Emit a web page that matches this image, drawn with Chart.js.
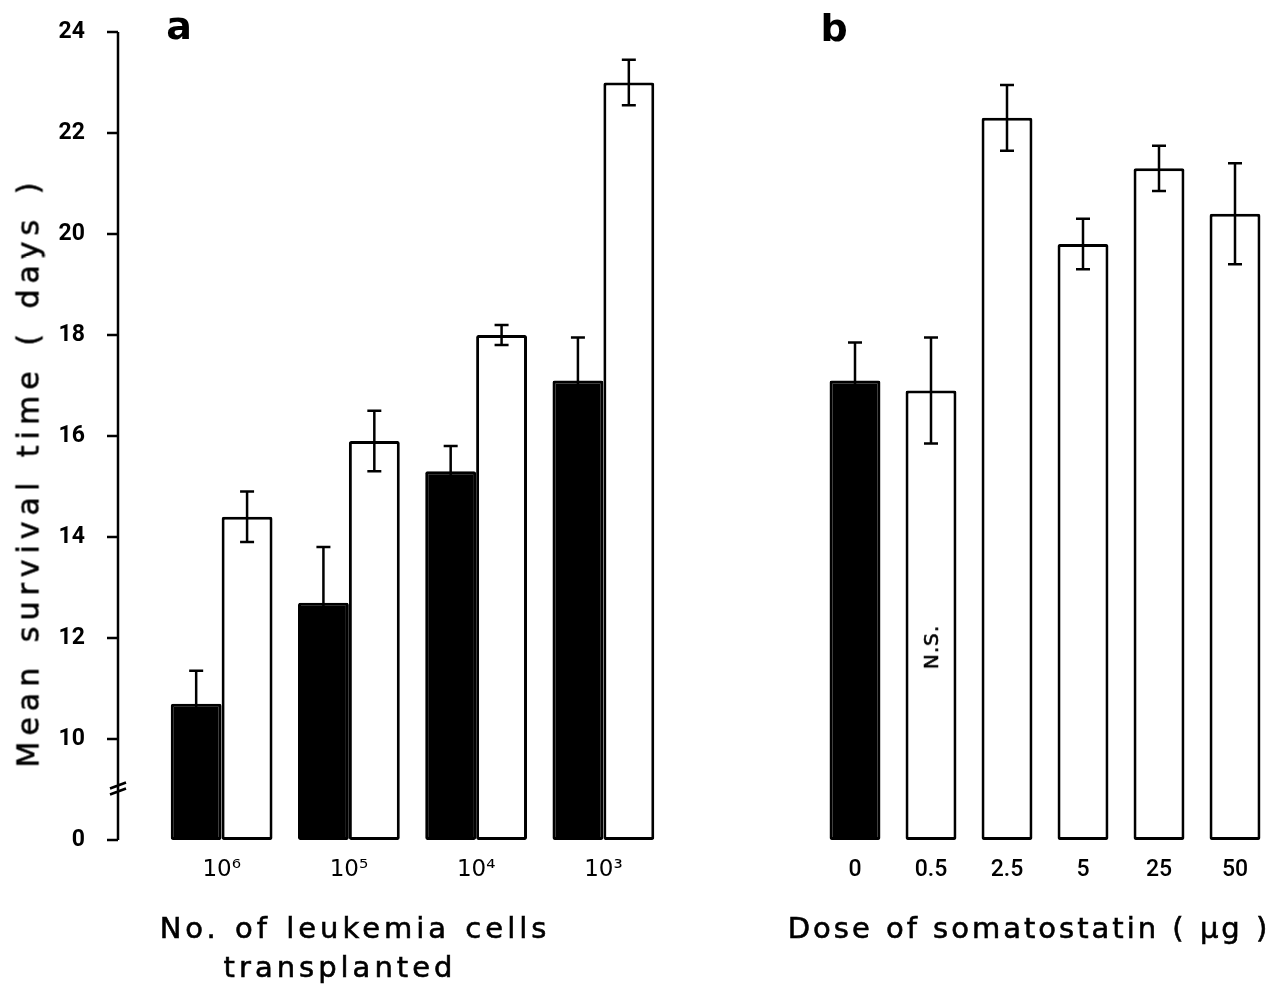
<!DOCTYPE html>
<html>
<head>
<meta charset="utf-8">
<script src="https://cdn.jsdelivr.net/npm/chart.js@4/dist/chart.umd.min.js"></script>
<style>
  body { margin: 0; background: #fff; }
  #wrap { position: relative; width: 1273px; height: 986px; overflow: hidden; font-family: "DejaVu Sans", sans-serif; color: #000; }
  canvas { position: absolute; top: 0; }
  #cA { left: 0; }
  #cB { left: 680px; }
  .txt { position: absolute; white-space: nowrap; transform: translate(-50%, -50%); -webkit-text-stroke: 0.6px #000; }
  .letter { font-size: 38px; font-weight: bold; -webkit-text-stroke: 0; }
  .title { font-size: 29px; letter-spacing: 4px; word-spacing: 2px; }
  #ytitle { font-size: 30px; letter-spacing: 6px; word-spacing: 4px; transform: translate(-50%, -50%) rotate(-90deg); }
  #ns { font-size: 20px; letter-spacing: 1px; transform: translate(-50%, -50%) rotate(-90deg); }
</style>
</head>
<body>
<div id="wrap">
  <canvas id="cA" width="680" height="986"></canvas>
  <canvas id="cB" width="593" height="986"></canvas>
  <div class="txt letter" style="left:179px; top:26px;">a</div>
  <div class="txt letter" style="left:834px; top:28px;">b</div>
  <div class="txt" id="ytitle" style="left:28px; top:472px;">Mean survival time ( days )</div>
  <div class="txt title" style="left:355px; top:928px;">No. of leukemia cells</div>
  <div class="txt title" style="left:340px; top:967px;">transplanted</div>
  <div class="txt title" style="left:1029px; top:928px; letter-spacing:3px; word-spacing:1px;">Dose of somatostatin ( µg )</div>
  <div class="txt" id="ns" style="left:931px; top:647px;">N.S.</div>
</div>
<script>
// panel a: number of leukemia cells transplanted
const cellLabels = ['10⁶', '10⁵', '10⁴', '10³'];
const controlA = [10.7, 12.7, 15.3, 17.1];
const controlAErr = [0.65, 1.1, 0.5, 0.85];
const treatedA = [14.4, 15.9, 18.0, 23.0];
const treatedAErr = [0.5, 0.6, 0.2, 0.45];

// panel b: dose of somatostatin
const doseLabels = ['0', '0.5', '2.5', '5', '25', '50'];
const doseMeans = [17.1, 16.9, 22.3, 19.8, 21.3, 20.4];
const doseErr = [0.75, 1.05, 0.65, 0.5, 0.45, 1.0];
const doseColors = ['#000', '#fff', '#fff', '#fff', '#fff', '#fff'];

// y axis has a break between 0 and 10
const yTickValues = [0, 10, 12, 14, 16, 18, 20, 22, 24];
const toAxis = v => v >= 10 ? v - 8 : v * 0.2;
const fromAxis = a => a < 2 ? a * 5 : a + 8;

const errorBars = {
  id: 'errorBars',
  afterDatasetsDraw(chart) {
    const ctx = chart.ctx;
    const y = chart.scales.y;
    ctx.save();
    ctx.strokeStyle = '#000';
    ctx.lineWidth = 2.5;
    chart.data.datasets.forEach((ds, i) => {
      const meta = chart.getDatasetMeta(i);
      meta.data.forEach((bar, j) => {
        const m = ds.means[j], e = ds.errs[j];
        const top = y.getPixelForValue(toAxis(m + e));
        const bot = y.getPixelForValue(toAxis(m - e));
        ctx.beginPath();
        ctx.moveTo(bar.x, top); ctx.lineTo(bar.x, bot);
        ctx.moveTo(bar.x - 7, top); ctx.lineTo(bar.x + 7, top);
        ctx.moveTo(bar.x - 7, bot); ctx.lineTo(bar.x + 7, bot);
        ctx.stroke();
      });
    });
    ctx.restore();
  }
};

// y axis line drawn left of the chart area, with break marks
const brokenAxis = {
  id: 'brokenAxis',
  afterDraw(chart) {
    const y = chart.scales.y;
    if (!y.options.display) return;
    const ctx = chart.ctx;
    const ax = chart.chartArea.left - 40;
    ctx.save();
    ctx.strokeStyle = '#000';
    ctx.lineWidth = 2.5;
    ctx.beginPath();
    ctx.moveTo(ax, y.getPixelForValue(y.max));
    ctx.lineTo(ax, y.getPixelForValue(y.min));
    y.ticks.forEach(t => {
      const py = y.getPixelForValue(t.value);
      ctx.moveTo(ax - 11, py); ctx.lineTo(ax, py);
    });
    const pb = y.getPixelForValue(1);
    ctx.moveTo(ax - 8, pb - 1); ctx.lineTo(ax + 8, pb - 7);
    ctx.moveTo(ax - 8, pb + 5); ctx.lineTo(ax + 8, pb - 1);
    ctx.stroke();
    ctx.restore();
  }
};

function yScale(show) {
  return {
    display: show,
    min: 0,
    max: toAxis(24),
    afterBuildTicks: s => { s.ticks = yTickValues.map(v => ({ value: toAxis(v) })); },
    afterFit: s => { s.width = 158; s.paddingTop = 0; s.paddingBottom = 0; },
    grid: { display: false },
    border: { display: false },
    ticks: {
      padding: 65,
      color: '#000',
      font: { family: 'Roboto, "DejaVu Sans"', size: 23, weight: 'bold' },
      callback: v => String(Math.round(fromAxis(v)))
    }
  };
}

function xScale(family, weight) {
  return {
    afterFit: s => { s.height = 146; },
    grid: { display: false, drawTicks: false },
    border: { display: false },
    ticks: {
      padding: 16,
      color: '#000',
      font: { family: family, size: 23, weight: weight }
    }
  };
}

const barStyle = {
  borderColor: '#000',
  borderWidth: 3,
  borderSkipped: false,
  borderRadius: 2,
  barPercentage: 1.0
};

new Chart(document.getElementById('cA'), {
  type: 'bar',
  data: {
    labels: cellLabels,
    datasets: [
      Object.assign({
        label: 'control',
        data: controlA.map(toAxis),
        means: controlA, errs: controlAErr,
        backgroundColor: '#000',
        categoryPercentage: 0.8
      }, barStyle),
      Object.assign({
        label: 'somatostatin',
        data: treatedA.map(toAxis),
        means: treatedA, errs: treatedAErr,
        backgroundColor: '#fff',
        categoryPercentage: 0.8
      }, barStyle)
    ]
  },
  options: {
    responsive: false,
    animation: false,
    layout: { padding: { top: 32, right: 13, bottom: 0, left: 0 } },
    plugins: { legend: { display: false }, tooltip: { enabled: false } },
    scales: { x: xScale('"DejaVu Sans"', 'normal'), y: yScale(true) }
  },
  plugins: [errorBars, brokenAxis]
});

new Chart(document.getElementById('cB'), {
  type: 'bar',
  data: {
    labels: doseLabels,
    datasets: [
      Object.assign({
        label: 'dose',
        data: doseMeans.map(toAxis),
        means: doseMeans, errs: doseErr,
        backgroundColor: doseColors,
        categoryPercentage: 0.67
      }, barStyle)
    ]
  },
  options: {
    responsive: false,
    animation: false,
    layout: { padding: { top: 32, right: 0, bottom: 0, left: 137 } },
    plugins: { legend: { display: false }, tooltip: { enabled: false } },
    scales: { x: xScale('Roboto', '500'), y: Object.assign(yScale(false), { afterFit: s => { s.width = 0; } }) }
  },
  plugins: [errorBars]
});
</script>
</body>
</html>
